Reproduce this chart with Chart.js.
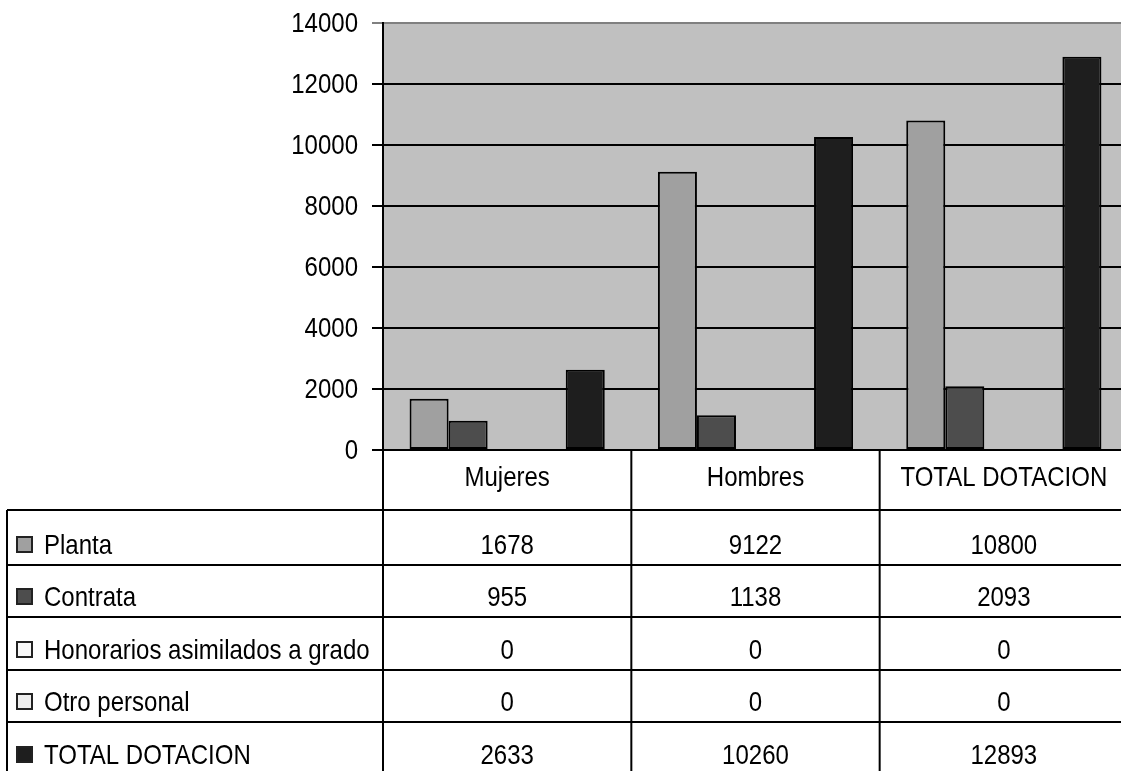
<!DOCTYPE html>
<html>
<head>
<meta charset="utf-8">
<script src="https://cdn.jsdelivr.net/npm/chart.js@4/dist/chart.umd.min.js"></script>
<style>
  html, body { margin: 0; padding: 0; background: #fff; overflow: hidden; }
  #wrap { width: 1128px; height: 771px; position: relative; }
</style>
</head>
<body>
<div id="wrap"><canvas id="bar-chart"></canvas></div>
<script>
// datos del grafico
var categories = ["Mujeres", "Hombres", "TOTAL DOTACION"];
var planta = [1678, 9122, 10800];
var contrata = [955, 1138, 2093];
var honorarios = [0, 0, 0];
var otroPersonal = [0, 0, 0];
var totalDotacion = [2633, 10260, 12893];
var seriesNames = ["Planta", "Contrata", "Honorarios asimilados a grado", "Otro personal", "TOTAL DOTACION"];
var seriesColors = ["#a0a0a0", "#4d4d4d", "#f8f8f8", "#eeeeee", "#1e1e1e"];
var yMax = 14000;
var yStep = 2000;

var FONT = '"Liberation Sans", Arial, sans-serif';
var FONT_SIZE = 24.5;

// texto algo estirado en vertical, como en el original
function drawText(ctx, txt, x, y) {
  ctx.save();
  ctx.translate(x, y);
  ctx.scale(0.98, 1.12);
  ctx.fillText(txt, 0, 0);
  ctx.restore();
}

// etiquetas del eje y (desde los ticks de la escala)
var yLabelsPlugin = {
  id: 'yLabels',
  afterDraw: function(chart) {
    var ctx = chart.ctx;
    var ys = chart.scales.y;
    var area = chart.chartArea;
    ctx.save();
    ctx.fillStyle = '#000';
    ctx.font = FONT_SIZE + 'px ' + FONT;
    ctx.textAlign = 'right';
    ctx.textBaseline = 'middle';
    ys.ticks.forEach(function(t) {
      drawText(ctx, String(t.value), area.left - 25, ys.getPixelForValue(t.value) + 1);
    });
    ctx.restore();
  }
};

// tabla de datos debajo del grafico
var tablePlugin = {
  id: 'dataTable',
  afterDraw: function(chart) {
    var ctx = chart.ctx;
    var area = chart.chartArea;
    var xs = chart.scales.x;
    var colW = (area.right - area.left) / categories.length;
    var rows = [area.bottom, area.bottom + 60, area.bottom + 115, area.bottom + 167, area.bottom + 220, area.bottom + 272, area.bottom + 325];
    var tableLeft = 7;

    ctx.save();
    ctx.strokeStyle = '#000';
    ctx.lineWidth = 2;

    // lineas horizontales
    for (var r = 1; r < rows.length; r++) {
      ctx.beginPath();
      ctx.moveTo(tableLeft, rows[r]);
      ctx.lineTo(area.right, rows[r]);
      ctx.stroke();
    }
    // borde izquierdo
    ctx.beginPath();
    ctx.moveTo(tableLeft, rows[1]);
    ctx.lineTo(tableLeft, rows[rows.length - 1]);
    ctx.stroke();
    // separadores de columnas
    for (var c = 0; c <= categories.length; c++) {
      var vx = area.left + c * colW;
      ctx.beginPath();
      ctx.moveTo(vx, area.bottom);
      ctx.lineTo(vx, rows[rows.length - 1]);
      ctx.stroke();
    }

    ctx.fillStyle = '#000';
    ctx.font = FONT_SIZE + 'px ' + FONT;
    ctx.textAlign = 'center';
    ctx.textBaseline = 'middle';

    // encabezados
    for (var i = 0; i < categories.length; i++) {
      drawText(ctx, categories[i], xs.getPixelForValue(i), rows[1] - 32);
    }

    // filas de series
    chart.data.datasets.forEach(function(ds, k) {
      var yText = rows[k + 2] - 19;
      // cuadrado de leyenda
      ctx.fillStyle = ds.legendColor;
      ctx.fillRect(17, yText - 9, 15, 15);
      ctx.lineWidth = 2;
      ctx.strokeStyle = '#222';
      ctx.strokeRect(17, yText - 9, 15, 15);
      ctx.fillStyle = '#000';
      ctx.textAlign = 'left';
      drawText(ctx, ds.label, 44, yText);
      ctx.textAlign = 'center';
      for (var j = 0; j < ds.data.length; j++) {
        drawText(ctx, String(ds.data[j]), xs.getPixelForValue(j), yText);
      }
    });
    ctx.restore();
  }
};

var seriesData = [planta, contrata, honorarios, otroPersonal, totalDotacion];
var datasets = seriesData.map(function(d, k) {
  var empty = d.every(function(v) { return v === 0; });
  return {
    label: seriesNames[k],
    data: d,
    backgroundColor: seriesColors[k],
    legendColor: seriesColors[k],
    borderColor: '#000',
    borderWidth: empty ? 0 : 2,
    borderSkipped: false,
    categoryPercentage: 0.786,
    barPercentage: 1.0
  };
});

new Chart(document.getElementById('bar-chart'), {
  type: 'bar',
  data: { labels: categories, datasets: datasets },
  options: {
    responsive: true,
    maintainAspectRatio: false,
    animation: false,
    layout: { padding: { left: 0, right: 0, top: 23, bottom: 321 } },
    plugins: {
      legend: { display: false },
      tooltip: { enabled: false },
      title: { display: false }
    },
    scales: {
      x: {
        display: false,
        grid: { display: false }
      },
      y: {
        min: 0,
        max: yMax,
        afterFit: function(scale) {
          scale.width = 383;
          scale.paddingTop = 0;
          scale.paddingBottom = 0;
        },
        ticks: {
          stepSize: yStep,
          display: false
        },
        grid: {
          color: function(c) { return c.tick && c.tick.value === yMax ? '#808080' : '#000'; },
          lineWidth: 2,
          tickLength: 11
        },
        border: { display: true, color: '#000', width: 2 }
      }
    }
  },
  plugins: [{
    id: 'plotBg',
    beforeDraw: function(chart) {
      var a = chart.chartArea;
      chart.ctx.save();
      chart.ctx.fillStyle = '#c0c0c0';
      chart.ctx.fillRect(a.left, a.top, a.right - a.left, a.bottom - a.top);
      chart.ctx.restore();
    }
  }, yLabelsPlugin, tablePlugin]
});
</script>
</body>
</html>
